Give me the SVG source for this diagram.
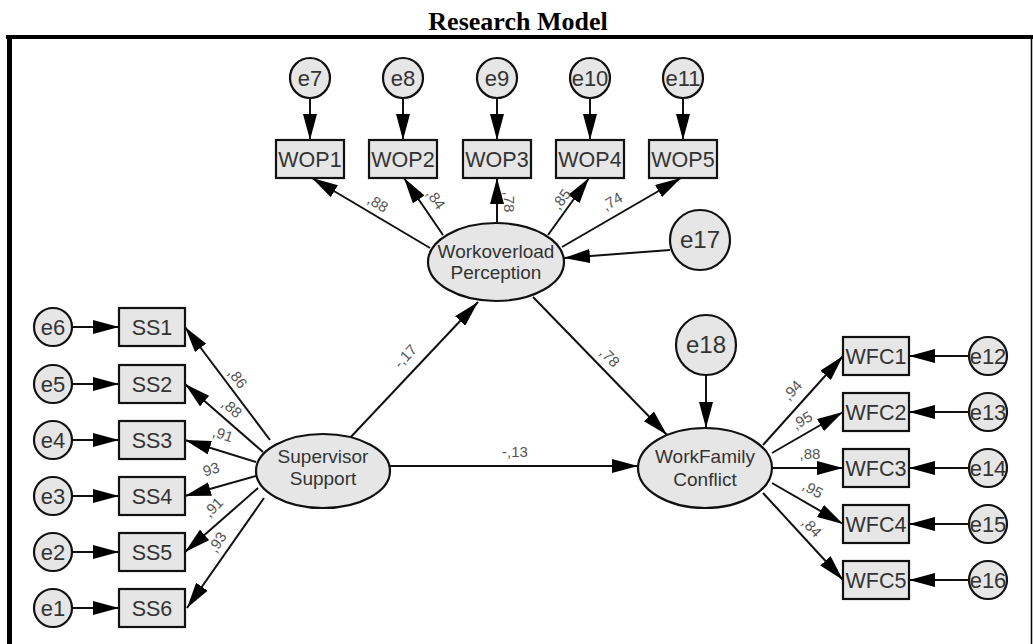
<svg xmlns="http://www.w3.org/2000/svg" width="1033" height="644" viewBox="0 0 1033 644">
  <style>
    .title { font-family: "Liberation Serif", "Times New Roman", serif; font-weight: bold; font-size: 26px; fill: #000; }
    .frame { stroke: #000; fill: none; }
    .node { fill: #e6e6e6; stroke: #111; stroke-width: 2.2; }
    .txt { font-family: "Liberation Sans", Arial, sans-serif; fill: #333; text-anchor: middle; }
    .box { font-size: 21.5px; }
    .err { font-size: 22px; }
    .errb { font-size: 24px; }
    .lat { font-size: 19px; }
    .lbl { font-family: "Liberation Sans", Arial, sans-serif; font-size: 15px; fill: #555; text-anchor: middle; dominant-baseline: central; }
    .edge { stroke: #111; stroke-width: 2; fill: none; marker-end: url(#head); }
  </style>
  <defs>
    <marker id="head" markerUnits="userSpaceOnUse" markerWidth="26" markerHeight="14" refX="26" refY="7" orient="auto">
      <path d="M0,0 L26,7 L0,14 z" fill="#000"/>
    </marker>
  </defs>

  <rect width="1033" height="644" fill="#fff"/>

  <!-- heading and frame -->
  <text class="title" x="518" y="30" text-anchor="middle">Research Model</text>
  <line class="frame" x1="6" y1="37" x2="1033" y2="37" stroke-width="4"/>
  <line class="frame" x1="9.5" y1="35" x2="9.5" y2="644" stroke-width="5"/>
  <line class="frame" x1="1031.5" y1="37" x2="1031.5" y2="644" stroke-width="1.5"/>

  <!-- connectors -->
  <g id="connectors">
    <!-- error terms into workload indicators -->
    <line class="edge" x1="310" y1="98" x2="310" y2="140"/>
    <line class="edge" x1="403" y1="98" x2="403" y2="140"/>
    <line class="edge" x1="497" y1="98" x2="497" y2="140"/>
    <line class="edge" x1="590" y1="98" x2="590" y2="140"/>
    <line class="edge" x1="683" y1="98" x2="683" y2="140"/>
    <!-- workload latent to indicators -->
    <line class="edge" x1="430" y1="248" x2="312" y2="178"/>
    <line class="edge" x1="443" y1="235" x2="404" y2="178"/>
    <line class="edge" x1="497" y1="223" x2="497" y2="178"/>
    <line class="edge" x1="548" y1="235" x2="589" y2="178"/>
    <line class="edge" x1="562" y1="247" x2="681" y2="178"/>
    <!-- disturbance terms -->
    <line class="edge" x1="670" y1="250" x2="564" y2="258"/>
    <line class="edge" x1="706" y1="375" x2="706" y2="428"/>
    <!-- structural paths -->
    <line class="edge" x1="348" y1="440" x2="478" y2="302"/>
    <line class="edge" x1="533" y1="297" x2="667" y2="435"/>
    <line class="edge" x1="390" y1="466" x2="638" y2="466"/>
    <!-- supervisor support to indicators -->
    <line class="edge" x1="270" y1="440" x2="185" y2="327"/>
    <line class="edge" x1="263" y1="452" x2="185" y2="384"/>
    <line class="edge" x1="256" y1="462" x2="185" y2="440"/>
    <line class="edge" x1="256" y1="476" x2="185" y2="496"/>
    <line class="edge" x1="258" y1="488" x2="185" y2="552"/>
    <line class="edge" x1="264" y1="498" x2="187" y2="608"/>
    <!-- error terms into supervisor indicators -->
    <line class="edge" x1="72" y1="327" x2="119" y2="327"/>
    <line class="edge" x1="72" y1="384" x2="119" y2="384"/>
    <line class="edge" x1="72" y1="440" x2="119" y2="440"/>
    <line class="edge" x1="72" y1="496" x2="119" y2="496"/>
    <line class="edge" x1="72" y1="552" x2="119" y2="552"/>
    <line class="edge" x1="72" y1="608" x2="119" y2="608"/>
    <!-- conflict latent to indicators -->
    <line class="edge" x1="763" y1="445" x2="843" y2="356"/>
    <line class="edge" x1="772" y1="453" x2="843" y2="412"/>
    <line class="edge" x1="773" y1="468" x2="843" y2="468"/>
    <line class="edge" x1="772" y1="483" x2="843" y2="524"/>
    <line class="edge" x1="763" y1="493" x2="843" y2="580"/>
    <!-- error terms into conflict indicators -->
    <line class="edge" x1="969" y1="356" x2="909" y2="356"/>
    <line class="edge" x1="969" y1="412" x2="909" y2="412"/>
    <line class="edge" x1="969" y1="468" x2="909" y2="468"/>
    <line class="edge" x1="969" y1="524" x2="909" y2="524"/>
    <line class="edge" x1="969" y1="580" x2="909" y2="580"/>
  </g>

  <!-- path coefficients -->
  <g id="coefficients">
    <text class="lbl" transform="translate(378,203) rotate(31)">,88</text>
    <text class="lbl" transform="translate(436,199) rotate(55)">,84</text>
    <text class="lbl" transform="translate(509,202) rotate(90)">,78</text>
    <text class="lbl" transform="translate(561,199) rotate(-54)">,85</text>
    <text class="lbl" transform="translate(612,201) rotate(-30)">,74</text>
    <text class="lbl" transform="translate(405,356) rotate(-47)">-,17</text>
    <text class="lbl" transform="translate(610,357) rotate(46)">,78</text>
    <text class="lbl" x="515" y="451">-,13</text>
    <text class="lbl" transform="translate(238,378) rotate(53)">,86</text>
    <text class="lbl" transform="translate(232,408) rotate(41)">,88</text>
    <text class="lbl" transform="translate(223,434) rotate(18)">,91</text>
    <text class="lbl" transform="translate(211,469) rotate(-17)">93</text>
    <text class="lbl" transform="translate(213,507) rotate(-45)">,91</text>
    <text class="lbl" transform="translate(217,542) rotate(-57)">,93</text>
    <text class="lbl" transform="translate(792,390) rotate(-48)">,94</text>
    <text class="lbl" transform="translate(802,420) rotate(-30)">,95</text>
    <text class="lbl" x="810" y="453">,88</text>
    <text class="lbl" transform="translate(813,489) rotate(30)">,95</text>
    <text class="lbl" transform="translate(812,527) rotate(47)">,84</text>
  </g>

  <!-- latent variables -->
  <g id="workoverload">
    <ellipse class="node" cx="496" cy="262" rx="68" ry="39"/>
    <text class="txt lat" x="496" y="258">Workoverload</text>
    <text class="txt lat" x="496" y="279">Perception</text>
  </g>
  <g id="supervisor">
    <ellipse class="node" cx="323" cy="471" rx="67" ry="37"/>
    <text class="txt lat" x="323" y="463">Supervisor</text>
    <text class="txt lat" x="323" y="485">Support</text>
  </g>
  <g id="workfamily">
    <ellipse class="node" cx="705" cy="468" rx="67" ry="40"/>
    <text class="txt lat" x="705" y="463">WorkFamily</text>
    <text class="txt lat" x="705" y="486">Conflict</text>
  </g>
  <g id="e17">
    <circle class="node" cx="700" cy="240" r="30"/>
    <text class="txt errb" x="700" y="248">e17</text>
  </g>
  <g id="e18">
    <circle class="node" cx="706" cy="345" r="30"/>
    <text class="txt errb" x="706" y="353">e18</text>
  </g>

  <!-- workload indicators -->
  <g id="wop1"><rect class="node" x="276" y="140" width="68" height="38"/><text class="txt box" x="310" y="167">WOP1</text></g>
  <g id="wop2"><rect class="node" x="369" y="140" width="68" height="38"/><text class="txt box" x="403" y="167">WOP2</text></g>
  <g id="wop3"><rect class="node" x="463" y="140" width="68" height="38"/><text class="txt box" x="497" y="167">WOP3</text></g>
  <g id="wop4"><rect class="node" x="556" y="140" width="68" height="38"/><text class="txt box" x="590" y="167">WOP4</text></g>
  <g id="wop5"><rect class="node" x="649" y="140" width="68" height="38"/><text class="txt box" x="683" y="167">WOP5</text></g>
  <g id="e7"><circle class="node" cx="310" cy="78" r="20"/><text class="txt err" x="310" y="86">e7</text></g>
  <g id="e8"><circle class="node" cx="403" cy="78" r="20"/><text class="txt err" x="403" y="86">e8</text></g>
  <g id="e9"><circle class="node" cx="497" cy="78" r="20"/><text class="txt err" x="497" y="86">e9</text></g>
  <g id="e10"><circle class="node" cx="590" cy="78" r="20"/><text class="txt err" x="590" y="86">e10</text></g>
  <g id="e11"><circle class="node" cx="683" cy="78" r="20"/><text class="txt err" x="683" y="86">e11</text></g>

  <!-- supervisor support indicators -->
  <g id="ss1"><rect class="node" x="119" y="308" width="66" height="38"/><text class="txt box" x="152" y="335">SS1</text></g>
  <g id="ss2"><rect class="node" x="119" y="365" width="66" height="38"/><text class="txt box" x="152" y="392">SS2</text></g>
  <g id="ss3"><rect class="node" x="119" y="421" width="66" height="38"/><text class="txt box" x="152" y="448">SS3</text></g>
  <g id="ss4"><rect class="node" x="119" y="477" width="66" height="38"/><text class="txt box" x="152" y="504">SS4</text></g>
  <g id="ss5"><rect class="node" x="119" y="533" width="66" height="38"/><text class="txt box" x="152" y="560">SS5</text></g>
  <g id="ss6"><rect class="node" x="119" y="589" width="66" height="38"/><text class="txt box" x="152" y="616">SS6</text></g>
  <g id="e6"><circle class="node" cx="53" cy="327" r="19"/><text class="txt err" x="53" y="335">e6</text></g>
  <g id="e5"><circle class="node" cx="53" cy="384" r="19"/><text class="txt err" x="53" y="392">e5</text></g>
  <g id="e4"><circle class="node" cx="53" cy="440" r="19"/><text class="txt err" x="53" y="448">e4</text></g>
  <g id="e3"><circle class="node" cx="53" cy="496" r="19"/><text class="txt err" x="53" y="504">e3</text></g>
  <g id="e2"><circle class="node" cx="53" cy="552" r="19"/><text class="txt err" x="53" y="560">e2</text></g>
  <g id="e1"><circle class="node" cx="53" cy="608" r="19"/><text class="txt err" x="53" y="616">e1</text></g>

  <!-- work-family conflict indicators -->
  <g id="wfc1"><rect class="node" x="843" y="337" width="66" height="38"/><text class="txt box" x="876" y="364">WFC1</text></g>
  <g id="wfc2"><rect class="node" x="843" y="393" width="66" height="38"/><text class="txt box" x="876" y="420">WFC2</text></g>
  <g id="wfc3"><rect class="node" x="843" y="449" width="66" height="38"/><text class="txt box" x="876" y="476">WFC3</text></g>
  <g id="wfc4"><rect class="node" x="843" y="505" width="66" height="38"/><text class="txt box" x="876" y="532">WFC4</text></g>
  <g id="wfc5"><rect class="node" x="843" y="561" width="66" height="38"/><text class="txt box" x="876" y="588">WFC5</text></g>
  <g id="e12"><circle class="node" cx="988" cy="356" r="19"/><text class="txt err" x="988" y="364">e12</text></g>
  <g id="e13"><circle class="node" cx="988" cy="412" r="19"/><text class="txt err" x="988" y="420">e13</text></g>
  <g id="e14"><circle class="node" cx="988" cy="468" r="19"/><text class="txt err" x="988" y="476">e14</text></g>
  <g id="e15"><circle class="node" cx="988" cy="524" r="19"/><text class="txt err" x="988" y="532">e15</text></g>
  <g id="e16"><circle class="node" cx="988" cy="580" r="19"/><text class="txt err" x="988" y="588">e16</text></g>
</svg>
